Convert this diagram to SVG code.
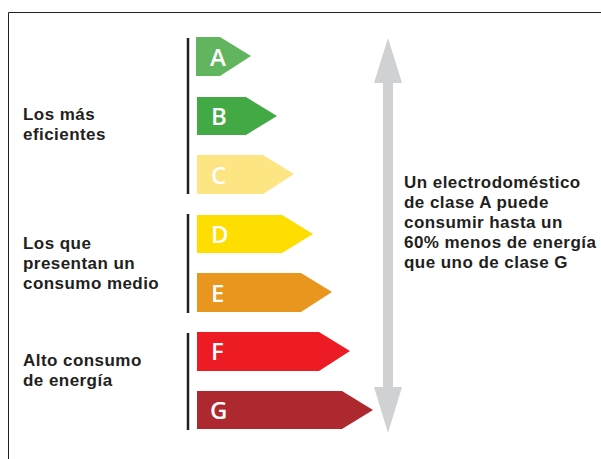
<svg xmlns="http://www.w3.org/2000/svg" width="601" height="459" viewBox="0 0 601 459">
<style>
.lbl{font-family:"Liberation Sans",Arial,sans-serif;font-weight:bold;font-size:17px;letter-spacing:0.45px;fill:#231f20}
.let{font-family:"Open Sans","Liberation Sans",Arial,sans-serif;font-weight:600;font-size:24px;fill:#ffffff}
.bar{stroke:#231f20;stroke-width:2.5}
</style>
<rect width="601" height="459" fill="#ffffff"/>
<path d="M8.5,470 V12.5 H601" fill="none" stroke="#231f20" stroke-width="1"/>
<g id="bars">
<line class="bar" x1="188" y1="38" x2="188" y2="194"/>
<line class="bar" x1="188" y1="214" x2="188" y2="313"/>
<line class="bar" x1="188" y1="333" x2="188" y2="430"/>
</g>
<g id="A"><polygon points="196,37 220,37 251,56 220,76 196,76" fill="#62b55f"/><text class="let" x="210" y="66">A</text></g>
<g id="B"><polygon points="197,97 246,97 277,116 246,135 197,135" fill="#43a944"/><text class="let" x="211" y="125">B</text></g>
<g id="C"><polygon points="197,155 263,155 294,174 263,194 197,194" fill="#fee583"/><text class="let" x="211" y="184">C</text></g>
<g id="D"><polygon points="197,215 282,215 313,234 282,253 197,253" fill="#fedd00"/><text class="let" x="211" y="243">D</text></g>
<g id="E"><polygon points="197,273 301,273 332,292 301,312 197,312" fill="#e8961d"/><text class="let" x="211" y="302">E</text></g>
<g id="F"><polygon points="197,332 319,332 350,351 319,371 197,371" fill="#ed1c24"/><text class="let" x="211" y="360">F</text></g>
<g id="G"><polygon points="197,391 342,391 373,410 342,429 197,429" fill="#ae2830"/><text class="let" x="210" y="419">G</text></g>
<g id="range-arrow">
<polygon points="388,38 402,83 393,83 393,387 402,387 388,433 374,387 383,387 383,83 374,83" fill="#d0d1d3"/>
</g>
<g id="label-eficientes">
<text class="lbl" x="23" y="120">Los más</text>
<text class="lbl" x="23" y="140">eficientes</text>
</g>
<g id="label-medio">
<text class="lbl" x="23" y="249">Los que</text>
<text class="lbl" x="23" y="269">presentan un</text>
<text class="lbl" x="23" y="289">consumo medio</text>
</g>
<g id="label-alto">
<text class="lbl" x="23" y="366">Alto consumo</text>
<text class="lbl" x="23" y="386">de energía</text>
</g>
<g id="label-note">
<text class="lbl" x="404" y="188">Un electrodoméstico</text>
<text class="lbl" x="404" y="208">de clase A puede</text>
<text class="lbl" x="404" y="228">consumir hasta un</text>
<text class="lbl" x="404" y="248">60% menos de energía</text>
<text class="lbl" x="404" y="268">que uno de clase G</text>
</g>
</svg>
